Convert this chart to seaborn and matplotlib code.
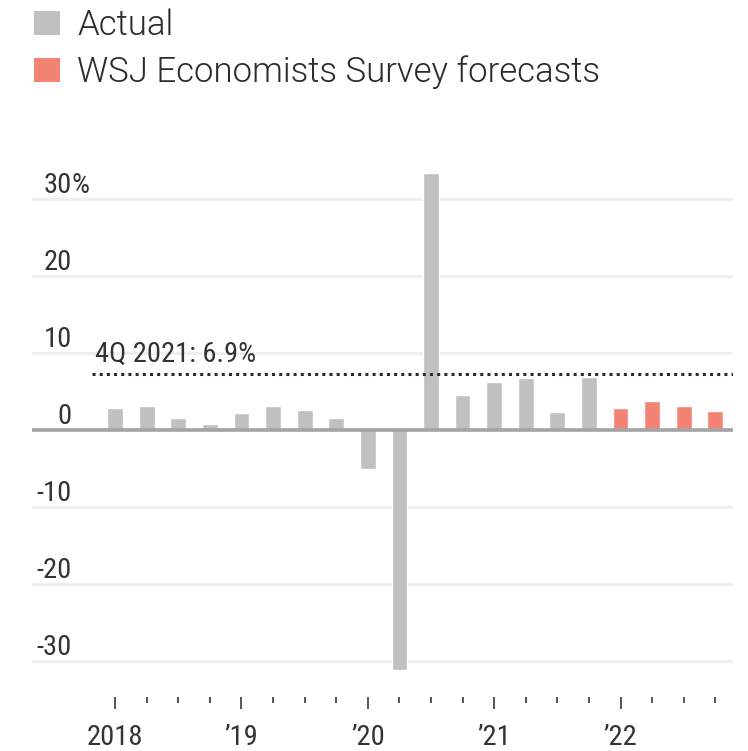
import matplotlib
matplotlib.use("Agg")
import matplotlib.pyplot as plt
import matplotlib.transforms as mtransforms
from matplotlib.patches import Rectangle
import pandas as pd
import seaborn as sns

# Quarterly US GDP growth, seasonally adjusted annual rate (%)
quarters = [f"{y} Q{q}" for y in range(2018, 2023) for q in range(1, 5)]
actual = [2.8, 3.1, 1.6, 0.8, 2.2, 3.1, 2.6, 1.6,
          -5.1, -31.2, 33.4, 4.5, 6.3, 6.7, 2.3, 6.9]
forecast = [2.8, 3.8, 3.1, 2.5]
series_names = ["Actual", "WSJ Economists Survey forecasts"]
year_labels = ["2018", "\u201919", "\u201920", "\u201921", "\u201922"]
y_ticks = [-30, -20, -10, 0, 10, 20, 30]
latest_label = "4Q 2021: 6.9%"
latest_value = 6.9

GRAY = "#c0c0c0"
SALMON = "#f38473"
TEXT = "#333333"
AXIS_FONT = ["Roboto Condensed", "DejaVu Sans"]
LEGEND_FONT = ["Roboto", "DejaVu Sans"]
AXIS_SIZE = 20.5

df = pd.DataFrame({
    "quarter": quarters,
    "growth": actual + forecast,
    "series": [series_names[0]] * len(actual) + [series_names[1]] * len(forecast),
})

sns.set_style("white")
plt.rcParams["font.family"] = AXIS_FONT

W, H = 748, 751
fig = plt.figure(figsize=(W / 100, H / 100), dpi=100)
ax = fig.add_axes([32 / W, 1 - 697 / H, 701 / W, 537 / H])

sns.barplot(data=df, x="quarter", y="growth", hue="series",
            palette={series_names[0]: GRAY, series_names[1]: SALMON},
            dodge=False, width=0.5, saturation=1, legend=False, ax=ax, zorder=2)

ax.set_xlim(-2.63, 19.56)
ax.set_ylim(-34.7, 35.1)
for s in ax.spines.values():
    s.set_visible(False)
ax.set_xlabel("")
ax.set_ylabel("")

# horizontal gridlines and zero baseline
for v in y_ticks:
    if v == 0:
        ax.axhline(0, color="#a3a3a3", lw=2.6, zorder=3)
    else:
        ax.axhline(v, color="#efefef", lw=2.2, zorder=0)

# y labels sit above their gridlines, right-aligned on the numbers
ax.set_yticks([])
for v in y_ticks:
    ax.annotate(str(v), xy=(0.057, v), xycoords=("axes fraction", "data"),
                xytext=(0, 4.5), textcoords="offset points",
                ha="right", va="baseline", fontsize=AXIS_SIZE, color=TEXT)
    if v == 30:
        ax.annotate("%", xy=(0.057, v), xycoords=("axes fraction", "data"),
                    xytext=(0, 4.5), textcoords="offset points",
                    ha="left", va="baseline", fontsize=AXIS_SIZE, color=TEXT)

# x axis: years on major ticks, quarters on minor ticks
n = len(quarters)
ax.set_xticks(list(range(0, n, 4)))
ax.set_xticklabels(year_labels)
ax.set_xticks([i for i in range(n) if i % 4], minor=True)
ax.tick_params(axis="x", which="major", direction="out", length=8.6, width=1.4,
               color="#555555", pad=10.5, labelsize=AXIS_SIZE, labelcolor=TEXT, bottom=True)
ax.tick_params(axis="x", which="minor", direction="out", length=4.3, width=1.4,
               color="#555555", bottom=True)

# dotted reference line at the latest actual reading
line_tr = mtransforms.offset_copy(ax.transData, fig=fig, x=0, y=3, units="dots")
ax.plot([-0.73, 19.56], [latest_value, latest_value], transform=line_tr,
        color="#2a2a2a", lw=2.2, linestyle=(0, (1, 1.35)), zorder=4,
        dash_capstyle="butt")
ax.annotate(latest_label, xy=(-0.64, latest_value), xycoords="data",
            xytext=(0, 11), textcoords="offset points",
            ha="left", va="baseline", fontsize=AXIS_SIZE, color=TEXT)

# legend: colour swatches with labels, stacked at the top left
for i, (name, color) in enumerate(zip(series_names, [GRAY, SALMON])):
    base = 35 + 47 * i
    fig.add_artist(Rectangle((34 / W, 1 - base / H), 26 / W, 24 / H,
                             transform=fig.transFigure, facecolor=color,
                             edgecolor="none"))
    fig.text(77 / W, 1 - base / H, name, ha="left", va="baseline",
             fontsize=25, color="#2b2b2b", family=LEGEND_FONT, weight=300)

fig.savefig("out.png", dpi=100, facecolor="white")
